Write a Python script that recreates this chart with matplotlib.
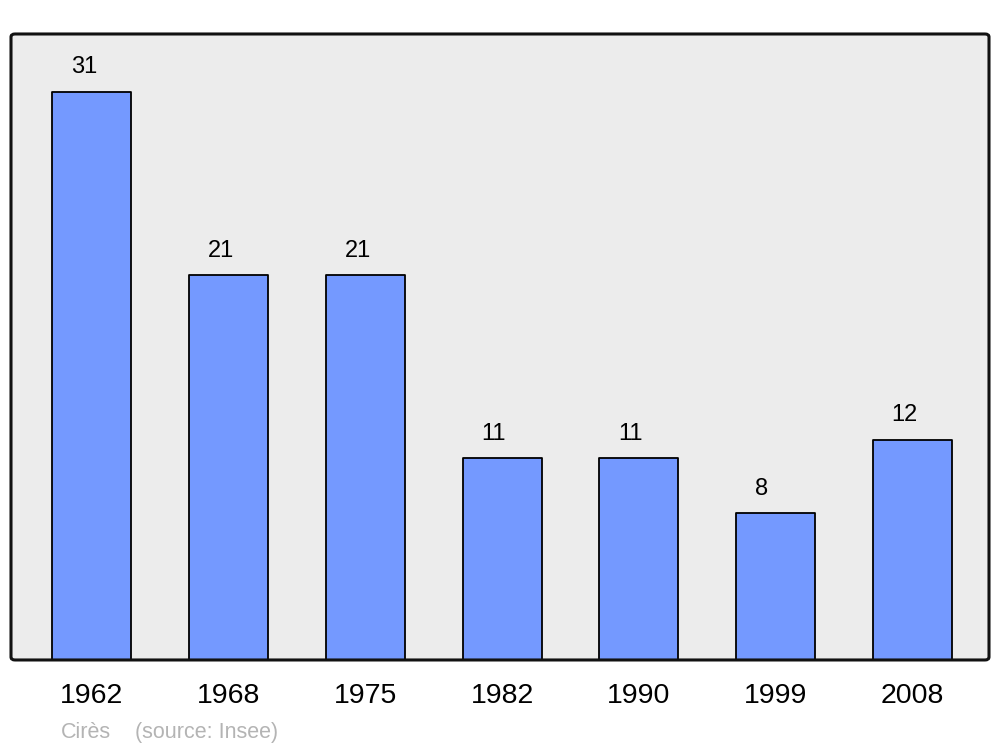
import matplotlib.pyplot as plt
from matplotlib.patches import FancyBboxPatch
import numpy as np

plt.rcParams['font.family'] = ['Liberation Sans', 'DejaVu Sans']

years = ['1962', '1968', '1975', '1982', '1990', '1999', '2008']
population = [31, 21, 21, 11, 11, 8, 12]
commune = 'Cirès'
source = '(source: Insee)'

bar_col = '#7499ff'
bg_col = '#ececec'
bar_w = 0.578

fig = plt.figure(figsize=(10, 7.47), dpi=100)
ax = fig.add_axes([0.011, 0.1165, 0.978, 0.838])
ax.set_facecolor(bg_col)

x = np.arange(len(years))
ax.bar(x, population, width=bar_w, color=bar_col, edgecolor='black',
       linewidth=1.3, joinstyle='round', zorder=2)

# value labels sit left-aligned a bit inside the bar's left edge
for xi, v in zip(x, population):
    ax.annotate(str(v), (xi - bar_w / 2, v), xytext=(13.5, 13.5),
                textcoords='offset points', ha='left', va='baseline',
                fontsize=17, color='black')

ax.set_xlim(-0.59, 6.56)
ax.set_ylim(0, 34.17)
ax.set_xticks(x)
ax.set_xticklabels(years, fontsize=20.5)
ax.tick_params(axis='x', length=0, pad=16.5)
ax.set_yticks([])
for s in ax.spines.values():
    s.set_visible(False)

# rounded frame around the plot area
frame = FancyBboxPatch((0.011, 0.1165), 0.978, 0.838,
                       boxstyle='round,pad=0,rounding_size=0.004',
                       transform=fig.transFigure, facecolor='none',
                       edgecolor='#111111', linewidth=2.2, zorder=10)
fig.patches.append(frame)

fig.text(0.061, 0.0125, commune, fontsize=15.5, color='#b4b4b4', ha='left', va='baseline')
fig.text(0.135, 0.0125, source, fontsize=15.5, color='#b4b4b4', ha='left', va='baseline')

fig.savefig('out.png', dpi=100)
